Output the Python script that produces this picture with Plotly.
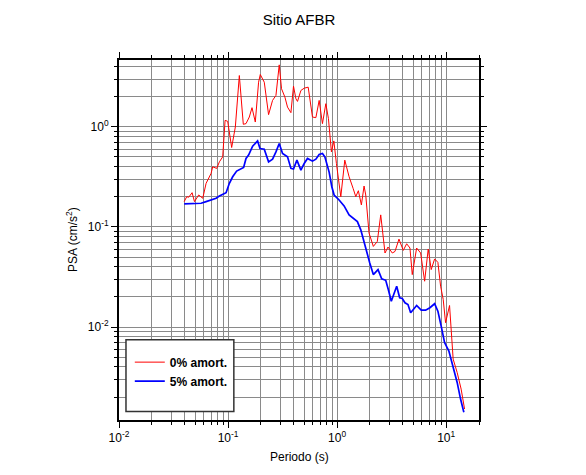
import plotly.graph_objects as go

# 0% damping spectrum
period_0 = [0.0396, 0.0418, 0.0436, 0.0468, 0.0492, 0.0538, 0.0586, 0.0629, 0.0699, 0.0723,
            0.0787, 0.0833, 0.0893, 0.0939, 0.0992, 0.1079, 0.1166, 0.1269, 0.138, 0.1461,
            0.1566, 0.1658, 0.1778, 0.1905, 0.1975, 0.2148, 0.2352, 0.2559, 0.2749, 0.2946,
            0.3093, 0.3322, 0.3509, 0.3771, 0.3982, 0.4189, 0.4333, 0.4655, 0.4991, 0.543,
            0.5943, 0.6384, 0.6845, 0.7337, 0.788, 0.8327, 0.8867, 0.9329, 0.9854, 1.081,
            1.176, 1.288, 1.401, 1.483, 1.566, 1.669, 1.766, 1.83, 1.962, 2.148,
            2.337, 2.511, 2.749, 2.928, 3.206, 3.394, 3.691, 4.043, 4.342, 4.655,
            4.886, 5.36, 5.833, 6.346, 6.844, 7.292, 7.833, 8.396, 8.889, 9.39,
            9.874, 10.74, 11.59, 12.61, 13.72, 14.74]
psa_0 = [0.179, 0.2005, 0.198, 0.2198, 0.179, 0.2085, 0.1933, 0.2725, 0.3425, 0.3985,
         0.384, 0.4468, 0.501, 1.16, 1.134, 0.621, 0.995, 3.25, 1.059, 1.076,
         1.252, 1.552, 1.116, 2.788, 3.325, 2.788, 1.322, 1.834, 2.056, 4.153,
         2.397, 1.978, 1.573, 1.384, 2.545, 1.907, 1.792, 2.306, 2.43, 2.487,
         1.252, 1.234, 1.834, 1.076, 1.701, 1.206, 0.5616, 0.7227, 0.4307, 0.2005,
         0.4645, 0.317, 0.243, 0.2005, 0.23, 0.1658, 0.2562, 0.2085, 0.0868, 0.0639,
         0.0716, 0.1319, 0.0549, 0.063, 0.0549, 0.0569, 0.0756, 0.0583, 0.0679, 0.0616,
         0.0334, 0.0616, 0.0549, 0.0287, 0.0602, 0.0375, 0.0479, 0.0443, 0.0256, 0.0189,
         0.01106, 0.01643, 0.00478, 0.00352, 0.0024, 0.00152]

# 5% damping spectrum
period_5 = [0.0396, 0.0474, 0.0566, 0.0629, 0.0699, 0.0777, 0.0833, 0.0893, 0.0959, 0.1028,
            0.1102, 0.1199, 0.1315, 0.1389, 0.1461, 0.1543, 0.168, 0.1866, 0.1963, 0.2148,
            0.2352, 0.2559, 0.2749, 0.2946, 0.3159, 0.3509, 0.3771, 0.3982, 0.4279, 0.4655,
            0.4991, 0.5349, 0.5943, 0.6384, 0.6845, 0.7337, 0.7718, 0.845, 0.8943, 0.9388,
            1.043, 1.159, 1.288, 1.401, 1.534, 1.648, 1.804, 1.992, 2.148, 2.372,
            2.564, 2.79, 2.947, 3.139, 3.517, 3.748, 3.958, 4.19, 4.463, 4.724,
            5.36, 5.907, 6.48, 7.094, 7.833, 8.396, 9.0, 9.669, 10.59, 11.59,
            12.61, 13.55, 14.52]
psa_5 = [0.1697, 0.1724, 0.1724, 0.179, 0.1859, 0.1933, 0.2038, 0.2118, 0.2198, 0.2725,
         0.317, 0.361, 0.384, 0.393, 0.483, 0.521, 0.64, 0.7227, 0.607, 0.5975,
         0.4468, 0.4753, 0.5616, 0.6808, 0.5415, 0.501, 0.384, 0.378, 0.4645, 0.3694,
         0.4307, 0.483, 0.454, 0.4753, 0.5293, 0.5415, 0.501, 0.3529, 0.2521, 0.2085,
         0.1859, 0.1621, 0.1319, 0.1223, 0.1131, 0.0936, 0.0639, 0.0437, 0.0334, 0.0375,
         0.0303, 0.0293, 0.0237, 0.01813, 0.0256, 0.0196, 0.0193, 0.01748, 0.0168, 0.0139,
         0.01643, 0.01476, 0.01476, 0.01559, 0.0171, 0.01442, 0.01023, 0.007, 0.00577, 0.0041,
         0.0028, 0.00191, 0.00141]

series_names = ["0% amort.", "5% amort."]

x_tickvals = [0.01, 0.1, 1, 10]
x_ticktext = ["10<sup>-2</sup>", "10<sup>-1</sup>", "10<sup>0</sup>", "10<sup>1</sup>"]
y_tickvals = [0.01, 0.1, 1]
y_ticktext = ["10<sup>-2</sup>", "10<sup>-1</sup>", "10<sup>0</sup>"]

FONT = "Liberation Sans, Arial, Helvetica, sans-serif"
GRID = "#8a8a8a"

fig = go.Figure()
fig.add_trace(go.Scatter(x=period_0, y=psa_0, mode="lines", name=series_names[0],
                         line=dict(color="#ff0000", width=1)))
fig.add_trace(go.Scatter(x=period_5, y=psa_5, mode="lines", name=series_names[1],
                         line=dict(color="#0000ff", width=1.7)))

axis_common = dict(
    type="log", showline=True, linecolor="black", linewidth=2, mirror="allticks",
    ticks="outside", ticklen=6, tickwidth=1, tickcolor="black",
    showgrid=True, gridcolor=GRID, gridwidth=1, zeroline=False,
    tickfont=dict(family=FONT, size=12, color="black"),
    minor=dict(dtick="D1", ticks="outside", ticklen=3, tickwidth=1, tickcolor="black",
               showgrid=True, gridcolor=GRID, gridwidth=1),
)

fig.update_xaxes(range=[-2, 1.301], tickmode="array", tickvals=x_tickvals,
                 ticktext=x_ticktext, **axis_common)
fig.update_yaxes(range=[-2.928, 0.667], tickmode="array", tickvals=y_tickvals,
                 ticktext=y_ticktext, **axis_common)

fig.update_layout(
    width=586, height=475,
    margin=dict(l=111, r=115, t=52, b=63),
    paper_bgcolor="white", plot_bgcolor="white",
    font=dict(family=FONT, size=12, color="black"),
    title=dict(text="Sitio AFBR", x=0.5, xref="paper", y=1 - 12 / 475,
               yref="container", yanchor="middle",
               font=dict(family=FONT, size=15, color="black")),
    showlegend=True,
    legend=dict(x=0.03, y=0.201, xanchor="left", yanchor="top",
                bgcolor="rgba(0,0,0,0)", borderwidth=0,
                font=dict(family=FONT, size=12, color="black", weight="bold"),
                tracegroupgap=0),
    shapes=[dict(type="rect", xref="paper", yref="paper",
                 x0=0.0194, x1=0.319, y0=0.0235, y1=0.223,
                 line=dict(color="#333333", width=1.5), fillcolor="white",
                 layer="above")],
    annotations=[
        dict(text="Periodo (s)", xref="paper", yref="paper", x=0.5, y=-37 / 361,
             xanchor="center", yanchor="middle", showarrow=False,
             font=dict(family=FONT, size=12, color="black")),
        dict(text="PSA (cm/s<sup>2</sup>)", xref="paper", yref="paper",
             x=-47 / 360, y=0.5, xanchor="center", yanchor="middle",
             textangle=-90, showarrow=False,
             font=dict(family=FONT, size=12, color="black")),
    ],
)

fig.write_html("out.html")
